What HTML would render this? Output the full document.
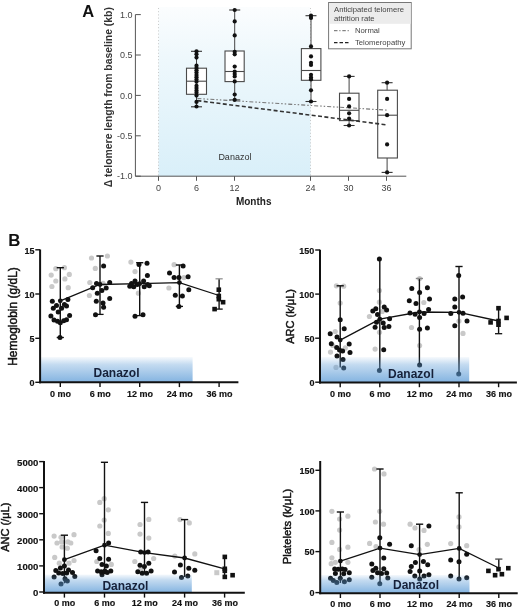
<!DOCTYPE html>
<html><head><meta charset="utf-8"><style>
html,body{margin:0;padding:0;background:#fff;}
svg{display:block;filter:blur(0.3px);font-family:"Liberation Sans",sans-serif;}
</style></head><body>
<svg width="520" height="609" viewBox="0 0 520 609">
<defs>
<linearGradient id="gA" x1="0" y1="0" x2="0" y2="1">
<stop offset="0" stop-color="#fbfdfe"/><stop offset="0.3" stop-color="#eef8fc"/><stop offset="1" stop-color="#d9eff9"/>
</linearGradient>
<linearGradient id="gB" x1="0" y1="0" x2="0" y2="1">
<stop offset="0" stop-color="#5a9ad6" stop-opacity="0.05"/><stop offset="0.3" stop-color="#5a9ad6" stop-opacity="0.36"/><stop offset="1" stop-color="#5a9ad6" stop-opacity="0.75"/>
</linearGradient>
<linearGradient id="gB2" x1="0" y1="0" x2="0" y2="1">
<stop offset="0" stop-color="#5a9ad6" stop-opacity="0.06"/><stop offset="0.3" stop-color="#5a9ad6" stop-opacity="0.36"/><stop offset="1" stop-color="#5a9ad6" stop-opacity="0.75"/>
</linearGradient>
</defs>
<rect width="520" height="609" fill="#fff"/>
<rect x="158.5" y="7" width="152.0" height="169.2" fill="url(#gA)"/>
<line x1="158.5" y1="8" x2="158.5" y2="176.2" stroke="#bdbdbd" stroke-width="0.8" stroke-dasharray="1 2.2"/>
<line x1="310.5" y1="8" x2="310.5" y2="176.2" stroke="#bdbdbd" stroke-width="0.8" stroke-dasharray="1 2.2"/>
<text x="234.9" y="160.3" font-size="9" fill="#333" text-anchor="middle">Danazol</text>
<line x1="196.5" y1="51.3" x2="196.5" y2="106.8" stroke="#444" stroke-width="1"/>
<line x1="191.0" y1="51.3" x2="202.0" y2="51.3" stroke="#333" stroke-width="1.1"/>
<line x1="191.0" y1="106.8" x2="202.0" y2="106.8" stroke="#333" stroke-width="1.1"/>
<rect x="186.5" y="68.2" width="20.0" height="26.1" fill="#fff" stroke="#4a4a4a" stroke-width="1.1"/>
<line x1="186.5" y1="81.2" x2="206.5" y2="81.2" stroke="#4a4a4a" stroke-width="1.1"/>
<line x1="234.7" y1="10.0" x2="234.7" y2="99.9" stroke="#444" stroke-width="1"/>
<line x1="229.2" y1="10.0" x2="240.2" y2="10.0" stroke="#333" stroke-width="1.1"/>
<line x1="229.2" y1="99.9" x2="240.2" y2="99.9" stroke="#333" stroke-width="1.1"/>
<rect x="225.0" y="51.0" width="19.2" height="30.6" fill="#fff" stroke="#4a4a4a" stroke-width="1.1"/>
<line x1="225.0" y1="71.5" x2="244.2" y2="71.5" stroke="#4a4a4a" stroke-width="1.1"/>
<line x1="311.0" y1="15.7" x2="311.0" y2="101.5" stroke="#444" stroke-width="1"/>
<line x1="305.5" y1="15.7" x2="316.5" y2="15.7" stroke="#333" stroke-width="1.1"/>
<line x1="305.5" y1="101.5" x2="316.5" y2="101.5" stroke="#333" stroke-width="1.1"/>
<rect x="301.4" y="48.6" width="19.5" height="31.7" fill="#fff" stroke="#4a4a4a" stroke-width="1.1"/>
<line x1="301.4" y1="70.5" x2="320.9" y2="70.5" stroke="#4a4a4a" stroke-width="1.1"/>
<line x1="349.1" y1="76.4" x2="349.1" y2="125.5" stroke="#444" stroke-width="1"/>
<line x1="343.6" y1="76.4" x2="354.6" y2="76.4" stroke="#333" stroke-width="1.1"/>
<line x1="343.6" y1="125.5" x2="354.6" y2="125.5" stroke="#333" stroke-width="1.1"/>
<rect x="339.5" y="93.2" width="19.5" height="27.4" fill="#fff" stroke="#4a4a4a" stroke-width="1.1"/>
<line x1="339.5" y1="110.3" x2="359.0" y2="110.3" stroke="#4a4a4a" stroke-width="1.1"/>
<line x1="387.1" y1="82.7" x2="387.1" y2="172.4" stroke="#444" stroke-width="1"/>
<line x1="381.6" y1="82.7" x2="392.6" y2="82.7" stroke="#333" stroke-width="1.1"/>
<line x1="381.6" y1="172.4" x2="392.6" y2="172.4" stroke="#333" stroke-width="1.1"/>
<rect x="377.7" y="90.2" width="19.7" height="67.8" fill="#fff" stroke="#4a4a4a" stroke-width="1.1"/>
<line x1="377.7" y1="115.2" x2="397.4" y2="115.2" stroke="#4a4a4a" stroke-width="1.1"/>
<line x1="197.4" y1="98.5" x2="387.7" y2="110.2" stroke="#777" stroke-width="1.1" stroke-dasharray="4 2 1.5 2 1.5 2"/>
<line x1="197.4" y1="100.6" x2="387.7" y2="125" stroke="#333" stroke-width="1.6" stroke-dasharray="4 2.4"/>
<circle cx="196.5" cy="51.3" r="2.1" fill="#111"/>
<circle cx="196.5" cy="54.2" r="2.1" fill="#111"/>
<circle cx="196.5" cy="57.6" r="2.1" fill="#111"/>
<circle cx="196.5" cy="65.7" r="2.1" fill="#111"/>
<circle cx="196.5" cy="68" r="2.1" fill="#111"/>
<circle cx="196.5" cy="70.3" r="2.1" fill="#111"/>
<circle cx="196.5" cy="72.6" r="2.1" fill="#111"/>
<circle cx="196.5" cy="74.9" r="2.1" fill="#111"/>
<circle cx="196.5" cy="77.2" r="2.1" fill="#111"/>
<circle cx="196.5" cy="79.5" r="2.1" fill="#111"/>
<circle cx="196.5" cy="81.8" r="2.1" fill="#111"/>
<circle cx="196.5" cy="85.8" r="2.1" fill="#111"/>
<circle cx="196.5" cy="88.1" r="2.1" fill="#111"/>
<circle cx="196.5" cy="90.4" r="2.1" fill="#111"/>
<circle cx="196.5" cy="92.7" r="2.1" fill="#111"/>
<circle cx="196.5" cy="95.6" r="2.1" fill="#111"/>
<circle cx="196.5" cy="101.9" r="2.1" fill="#111"/>
<circle cx="196.5" cy="106.5" r="2.1" fill="#111"/>
<circle cx="234.7" cy="10.0" r="2.1" fill="#111"/>
<circle cx="234.7" cy="21.4" r="2.1" fill="#111"/>
<circle cx="234.7" cy="35.4" r="2.1" fill="#111"/>
<circle cx="234.7" cy="51.8" r="2.1" fill="#111"/>
<circle cx="234.7" cy="54.3" r="2.1" fill="#111"/>
<circle cx="234.7" cy="66.6" r="2.1" fill="#111"/>
<circle cx="234.7" cy="71.5" r="2.1" fill="#111"/>
<circle cx="234.7" cy="74" r="2.1" fill="#111"/>
<circle cx="234.7" cy="76.4" r="2.1" fill="#111"/>
<circle cx="234.7" cy="81.4" r="2.1" fill="#111"/>
<circle cx="234.7" cy="94.5" r="2.1" fill="#111"/>
<circle cx="234.7" cy="99.9" r="2.1" fill="#111"/>
<circle cx="311.0" cy="15.7" r="2.1" fill="#111"/>
<circle cx="311.0" cy="17.9" r="2.1" fill="#111"/>
<circle cx="311.0" cy="46.4" r="2.1" fill="#111"/>
<circle cx="311.0" cy="56.4" r="2.1" fill="#111"/>
<circle cx="311.0" cy="62.8" r="2.1" fill="#111"/>
<circle cx="311.0" cy="65" r="2.1" fill="#111"/>
<circle cx="311.0" cy="74.8" r="2.1" fill="#111"/>
<circle cx="311.0" cy="77.4" r="2.1" fill="#111"/>
<circle cx="311.0" cy="79.5" r="2.1" fill="#111"/>
<circle cx="311.0" cy="90.3" r="2.1" fill="#111"/>
<circle cx="311.0" cy="101.5" r="2.1" fill="#111"/>
<circle cx="349.1" cy="76.4" r="2.1" fill="#111"/>
<circle cx="349.1" cy="98.9" r="2.1" fill="#111"/>
<circle cx="349.1" cy="106.4" r="2.1" fill="#111"/>
<circle cx="349.1" cy="113.3" r="2.1" fill="#111"/>
<circle cx="349.1" cy="118.6" r="2.1" fill="#111"/>
<circle cx="349.1" cy="125.5" r="2.1" fill="#111"/>
<circle cx="387.1" cy="82.7" r="2.1" fill="#111"/>
<circle cx="387.1" cy="98.9" r="2.1" fill="#111"/>
<circle cx="387.1" cy="115.2" r="2.1" fill="#111"/>
<circle cx="387.1" cy="144.4" r="2.1" fill="#111"/>
<circle cx="387.1" cy="172.4" r="2.1" fill="#111"/>
<line x1="135.4" y1="14.6" x2="135.4" y2="176.2" stroke="#555" stroke-width="1"/>
<line x1="135.4" y1="176.2" x2="406.3" y2="176.2" stroke="#555" stroke-width="1"/>
<line x1="135.4" y1="14.6" x2="140.8" y2="14.6" stroke="#555" stroke-width="1"/>
<text x="132.5" y="17.8" font-size="9" fill="#444" text-anchor="end">1.0</text>
<line x1="135.4" y1="55.0" x2="140.8" y2="55.0" stroke="#555" stroke-width="1"/>
<text x="132.5" y="58.2" font-size="9" fill="#444" text-anchor="end">0.5</text>
<line x1="135.4" y1="95.4" x2="140.8" y2="95.4" stroke="#555" stroke-width="1"/>
<text x="132.5" y="98.6" font-size="9" fill="#444" text-anchor="end">0.0</text>
<line x1="135.4" y1="135.8" x2="140.8" y2="135.8" stroke="#555" stroke-width="1"/>
<text x="132.5" y="139.0" font-size="9" fill="#444" text-anchor="end">-0.5</text>
<line x1="135.4" y1="176.2" x2="140.8" y2="176.2" stroke="#555" stroke-width="1"/>
<text x="132.5" y="179.4" font-size="9" fill="#444" text-anchor="end">-1.0</text>
<line x1="158.5" y1="176.2" x2="158.5" y2="180.8" stroke="#555" stroke-width="1"/>
<text x="158.5" y="190.8" font-size="9" fill="#444" text-anchor="middle">0</text>
<line x1="196.5" y1="176.2" x2="196.5" y2="180.8" stroke="#555" stroke-width="1"/>
<text x="196.5" y="190.8" font-size="9" fill="#444" text-anchor="middle">6</text>
<line x1="234.5" y1="176.2" x2="234.5" y2="180.8" stroke="#555" stroke-width="1"/>
<text x="234.5" y="190.8" font-size="9" fill="#444" text-anchor="middle">12</text>
<line x1="310.5" y1="176.2" x2="310.5" y2="180.8" stroke="#555" stroke-width="1"/>
<text x="310.5" y="190.8" font-size="9" fill="#444" text-anchor="middle">24</text>
<line x1="348.5" y1="176.2" x2="348.5" y2="180.8" stroke="#555" stroke-width="1"/>
<text x="348.5" y="190.8" font-size="9" fill="#444" text-anchor="middle">30</text>
<line x1="386.5" y1="176.2" x2="386.5" y2="180.8" stroke="#555" stroke-width="1"/>
<text x="386.5" y="190.8" font-size="9" fill="#444" text-anchor="middle">36</text>
<text x="253.7" y="205" font-size="10" font-weight="bold" fill="#222" text-anchor="middle">Months</text>
<text transform="translate(112.2,97.2) rotate(-90)" font-size="10.4" font-weight="bold" fill="#333" text-anchor="middle">&#916; telomere length from baseline (kb)</text>
<text x="82.3" y="16.9" font-size="16.5" font-weight="bold" fill="#111">A</text>
<rect x="328.6" y="2.5" width="82.6" height="46.3" fill="#fff" stroke="#777" stroke-width="1"/>
<rect x="329.1" y="3" width="81.6" height="20.8" fill="#ececec"/>
<text x="334" y="12.1" font-size="7.7" fill="#444">Anticipated telomere</text>
<text x="334" y="20.8" font-size="7.7" fill="#444">attrition rate</text>
<line x1="334" y1="30.7" x2="350" y2="30.7" stroke="#666" stroke-width="1" stroke-dasharray="3.5 1.8 1.2 1.8"/>
<text x="355" y="33.4" font-size="7.7" fill="#444">Normal</text>
<line x1="334" y1="42.7" x2="350" y2="42.7" stroke="#222" stroke-width="1.3" stroke-dasharray="3.5 2"/>
<text x="355" y="45.4" font-size="7.7" fill="#444">Telomeropathy</text>
<text x="8.3" y="246.2" font-size="16.8" font-weight="bold" fill="#111">B</text>
<circle cx="55.8" cy="268.7" r="2.6" fill="#c9c9c9"/>
<circle cx="64.4" cy="267.7" r="2.6" fill="#c9c9c9"/>
<circle cx="51.2" cy="275.1" r="2.6" fill="#c9c9c9"/>
<circle cx="69.3" cy="274.4" r="2.6" fill="#c9c9c9"/>
<circle cx="55.8" cy="281" r="2.6" fill="#c9c9c9"/>
<circle cx="64.9" cy="278.9" r="2.6" fill="#c9c9c9"/>
<circle cx="51.9" cy="286.5" r="2.6" fill="#c9c9c9"/>
<circle cx="68.2" cy="287.7" r="2.6" fill="#c9c9c9"/>
<circle cx="91.5" cy="258" r="2.6" fill="#c9c9c9"/>
<circle cx="107.4" cy="256" r="2.6" fill="#c9c9c9"/>
<circle cx="95.3" cy="268.4" r="2.6" fill="#c9c9c9"/>
<circle cx="89.8" cy="282.5" r="2.6" fill="#c9c9c9"/>
<circle cx="89.4" cy="295.5" r="2.6" fill="#c9c9c9"/>
<circle cx="103" cy="283.4" r="2.6" fill="#c9c9c9"/>
<circle cx="130.9" cy="262.1" r="2.6" fill="#c9c9c9"/>
<circle cx="135" cy="271.6" r="2.6" fill="#c9c9c9"/>
<circle cx="138.4" cy="293.2" r="2.6" fill="#c9c9c9"/>
<circle cx="174.1" cy="264.7" r="2.6" fill="#c9c9c9"/>
<circle cx="183.9" cy="277.6" r="2.6" fill="#c9c9c9"/>
<circle cx="168.9" cy="288" r="2.6" fill="#c9c9c9"/>
<line x1="60.3" y1="267.7" x2="60.3" y2="337.5" stroke="#111" stroke-width="1.4"/>
<line x1="56.7" y1="267.7" x2="63.9" y2="267.7" stroke="#111" stroke-width="1.4"/>
<line x1="56.7" y1="337.5" x2="63.9" y2="337.5" stroke="#111" stroke-width="1.3"/>
<line x1="100.0" y1="256" x2="100.0" y2="314.4" stroke="#111" stroke-width="1.4"/>
<line x1="96.4" y1="256" x2="103.6" y2="256" stroke="#111" stroke-width="1.4"/>
<line x1="96.4" y1="314.4" x2="103.6" y2="314.4" stroke="#111" stroke-width="1.3"/>
<line x1="139.7" y1="262.7" x2="139.7" y2="315.6" stroke="#111" stroke-width="1.4"/>
<line x1="136.1" y1="262.7" x2="143.3" y2="262.7" stroke="#111" stroke-width="1.4"/>
<line x1="136.1" y1="315.6" x2="143.3" y2="315.6" stroke="#111" stroke-width="1.3"/>
<line x1="179.4" y1="265" x2="179.4" y2="306.4" stroke="#111" stroke-width="1.4"/>
<line x1="175.8" y1="265" x2="183.0" y2="265" stroke="#111" stroke-width="1.4"/>
<line x1="175.8" y1="306.4" x2="183.0" y2="306.4" stroke="#111" stroke-width="1.3"/>
<line x1="219.1" y1="278.8" x2="219.1" y2="309.1" stroke="#111" stroke-width="1.4"/>
<line x1="215.5" y1="278.8" x2="222.7" y2="278.8" stroke="#9a9a9a" stroke-width="1.4"/>
<line x1="215.5" y1="309.1" x2="222.7" y2="309.1" stroke="#111" stroke-width="1.3"/>
<polyline points="60.3,300.8 100.0,284.5 139.7,283.7 179.4,282.6 219.1,295.5" fill="none" stroke="#111" stroke-width="1.3"/>
<circle cx="52.3" cy="301.2" r="2.5" fill="#111"/>
<circle cx="67.9" cy="299.4" r="2.5" fill="#111"/>
<circle cx="56.5" cy="305.4" r="2.5" fill="#111"/>
<circle cx="64.4" cy="304.4" r="2.5" fill="#111"/>
<circle cx="53.3" cy="308.2" r="2.5" fill="#111"/>
<circle cx="61.6" cy="308.2" r="2.5" fill="#111"/>
<circle cx="66.5" cy="306.1" r="2.5" fill="#111"/>
<circle cx="58.2" cy="312" r="2.5" fill="#111"/>
<circle cx="50.9" cy="316.1" r="2.5" fill="#111"/>
<circle cx="69.6" cy="315.6" r="2.5" fill="#111"/>
<circle cx="54" cy="320" r="2.5" fill="#111"/>
<circle cx="57.5" cy="321.2" r="2.5" fill="#111"/>
<circle cx="60.3" cy="322.8" r="2.5" fill="#111"/>
<circle cx="63.7" cy="320.8" r="2.5" fill="#111"/>
<circle cx="66.5" cy="319.8" r="2.5" fill="#111"/>
<circle cx="60" cy="337.5" r="2.5" fill="#111"/>
<circle cx="103.6" cy="265.9" r="2.5" fill="#111"/>
<circle cx="96.5" cy="283.4" r="2.5" fill="#111"/>
<circle cx="109.7" cy="282.6" r="2.5" fill="#111"/>
<circle cx="92.7" cy="287.7" r="2.5" fill="#111"/>
<circle cx="101.9" cy="290.5" r="2.5" fill="#111"/>
<circle cx="106.2" cy="288" r="2.5" fill="#111"/>
<circle cx="97.3" cy="293.2" r="2.5" fill="#111"/>
<circle cx="109.7" cy="298.6" r="2.5" fill="#111"/>
<circle cx="96.3" cy="301.2" r="2.5" fill="#111"/>
<circle cx="103" cy="302.9" r="2.5" fill="#111"/>
<circle cx="103.6" cy="307.3" r="2.5" fill="#111"/>
<circle cx="95.5" cy="314.7" r="2.5" fill="#111"/>
<circle cx="147" cy="263.2" r="2.5" fill="#111"/>
<circle cx="139" cy="264.4" r="2.5" fill="#111"/>
<circle cx="147.4" cy="275.5" r="2.5" fill="#111"/>
<circle cx="135" cy="281" r="2.5" fill="#111"/>
<circle cx="131.5" cy="283.4" r="2.5" fill="#111"/>
<circle cx="129.8" cy="286.2" r="2.5" fill="#111"/>
<circle cx="133.8" cy="286.8" r="2.5" fill="#111"/>
<circle cx="137.3" cy="284.5" r="2.5" fill="#111"/>
<circle cx="143.6" cy="281" r="2.5" fill="#111"/>
<circle cx="144.2" cy="286.8" r="2.5" fill="#111"/>
<circle cx="147.6" cy="284.5" r="2.5" fill="#111"/>
<circle cx="149.3" cy="285.7" r="2.5" fill="#111"/>
<circle cx="135" cy="316.2" r="2.5" fill="#111"/>
<circle cx="143" cy="314.7" r="2.5" fill="#111"/>
<circle cx="183.1" cy="265.9" r="2.5" fill="#111"/>
<circle cx="169.5" cy="273" r="2.5" fill="#111"/>
<circle cx="174.1" cy="277.4" r="2.5" fill="#111"/>
<circle cx="178.9" cy="277.6" r="2.5" fill="#111"/>
<circle cx="188.1" cy="276.7" r="2.5" fill="#111"/>
<circle cx="188.8" cy="289.7" r="2.5" fill="#111"/>
<circle cx="175.3" cy="295.2" r="2.5" fill="#111"/>
<circle cx="182.4" cy="296" r="2.5" fill="#111"/>
<circle cx="178.9" cy="306.4" r="2.5" fill="#111"/>
<rect x="216.5" y="287.4" width="4.6" height="4.6" fill="#111"/>
<rect x="216.5" y="293.7" width="4.6" height="4.6" fill="#111"/>
<rect x="216.5" y="296.9" width="4.6" height="4.6" fill="#111"/>
<rect x="220.8" y="299.9" width="4.6" height="4.6" fill="#111"/>
<rect x="212.3" y="306.8" width="4.6" height="4.6" fill="#111"/>
<circle cx="60.3" cy="300.8" r="2.4" fill="#111"/>
<circle cx="100.0" cy="284.5" r="2.4" fill="#111"/>
<circle cx="139.7" cy="283.7" r="2.4" fill="#111"/>
<circle cx="179.4" cy="282.6" r="2.4" fill="#111"/>
<rect x="40.7" y="357" width="151.9" height="25.3" fill="url(#gB)"/>
<text x="93.5" y="376.6" font-size="12" font-weight="bold" fill="#16213a">Danazol</text>
<line x1="40.1" y1="249.5" x2="40.1" y2="383.3" stroke="#111" stroke-width="2"/>
<line x1="39.1" y1="382.3" x2="238.4" y2="382.3" stroke="#111" stroke-width="2"/>
<line x1="35.3" y1="249.8" x2="40.1" y2="249.8" stroke="#111" stroke-width="1.4"/>
<text x="34.5" y="253.5" font-size="9" font-weight="bold" fill="#111" stroke="#111" stroke-width="0.15" text-anchor="end">15</text>
<line x1="35.3" y1="294.0" x2="40.1" y2="294.0" stroke="#111" stroke-width="1.4"/>
<text x="34.5" y="297.6" font-size="9" font-weight="bold" fill="#111" stroke="#111" stroke-width="0.15" text-anchor="end">10</text>
<line x1="35.3" y1="338.3" x2="40.1" y2="338.3" stroke="#111" stroke-width="1.4"/>
<text x="34.5" y="341.9" font-size="9" font-weight="bold" fill="#111" stroke="#111" stroke-width="0.15" text-anchor="end">5</text>
<line x1="35.3" y1="382.3" x2="40.1" y2="382.3" stroke="#111" stroke-width="1.4"/>
<text x="34.5" y="385.9" font-size="9" font-weight="bold" fill="#111" stroke="#111" stroke-width="0.15" text-anchor="end">0</text>
<line x1="60.3" y1="382.3" x2="60.3" y2="387.1" stroke="#111" stroke-width="1.4"/>
<text x="60.6" y="396.6" font-size="9" font-weight="bold" fill="#111" stroke="#111" stroke-width="0.15" text-anchor="middle">0 mo</text>
<line x1="100.0" y1="382.3" x2="100.0" y2="387.1" stroke="#111" stroke-width="1.4"/>
<text x="100.3" y="396.6" font-size="9" font-weight="bold" fill="#111" stroke="#111" stroke-width="0.15" text-anchor="middle">6 mo</text>
<line x1="139.7" y1="382.3" x2="139.7" y2="387.1" stroke="#111" stroke-width="1.4"/>
<text x="140.0" y="396.6" font-size="9" font-weight="bold" fill="#111" stroke="#111" stroke-width="0.15" text-anchor="middle">12 mo</text>
<line x1="179.4" y1="382.3" x2="179.4" y2="387.1" stroke="#111" stroke-width="1.4"/>
<text x="179.7" y="396.6" font-size="9" font-weight="bold" fill="#111" stroke="#111" stroke-width="0.15" text-anchor="middle">24 mo</text>
<line x1="219.1" y1="382.3" x2="219.1" y2="387.1" stroke="#111" stroke-width="1.4"/>
<text x="219.4" y="396.6" font-size="9" font-weight="bold" fill="#111" stroke="#111" stroke-width="0.15" text-anchor="middle">36 mo</text>
<text transform="translate(17.4,316.5) rotate(-90)" font-size="12" fill="#111" stroke="#111" stroke-width="0.45" text-anchor="middle">Hemoglobin (g/dL)</text>
<circle cx="336.4" cy="285.8" r="2.6" fill="#c9c9c9"/>
<circle cx="343.7" cy="286.2" r="2.6" fill="#c9c9c9"/>
<circle cx="340.2" cy="303.1" r="2.6" fill="#c9c9c9"/>
<circle cx="335.2" cy="331.5" r="2.6" fill="#c9c9c9"/>
<circle cx="332.8" cy="345.5" r="2.6" fill="#c9c9c9"/>
<circle cx="345.3" cy="347.9" r="2.6" fill="#c9c9c9"/>
<circle cx="330.5" cy="352.1" r="2.6" fill="#c9c9c9"/>
<circle cx="336" cy="367.4" r="2.6" fill="#c9c9c9"/>
<circle cx="369.4" cy="316.5" r="2.6" fill="#c9c9c9"/>
<circle cx="382.2" cy="311.4" r="2.6" fill="#c9c9c9"/>
<circle cx="379.5" cy="332.3" r="2.6" fill="#c9c9c9"/>
<circle cx="379.4" cy="290.5" r="2.6" fill="#c9c9c9"/>
<circle cx="379.4" cy="302.2" r="2.6" fill="#c9c9c9"/>
<circle cx="375.1" cy="349.1" r="2.6" fill="#c9c9c9"/>
<circle cx="423.8" cy="302.5" r="2.6" fill="#c9c9c9"/>
<circle cx="411.5" cy="327.5" r="2.6" fill="#c9c9c9"/>
<circle cx="419.6" cy="345.6" r="2.6" fill="#c9c9c9"/>
<circle cx="419.6" cy="278.5" r="2.6" fill="#c9c9c9"/>
<circle cx="463" cy="333.4" r="2.6" fill="#c9c9c9"/>
<circle cx="459" cy="321" r="2.6" fill="#c9c9c9"/>
<line x1="340.2" y1="285.8" x2="340.2" y2="367.4" stroke="#111" stroke-width="1.4"/>
<line x1="336.6" y1="285.8" x2="343.8" y2="285.8" stroke="#111" stroke-width="1.4"/>
<line x1="379.8" y1="259" x2="379.8" y2="370.5" stroke="#111" stroke-width="1.4"/>
<line x1="419.4" y1="278.5" x2="419.4" y2="365" stroke="#111" stroke-width="1.4"/>
<line x1="415.8" y1="278.5" x2="423.0" y2="278.5" stroke="#8a8a8a" stroke-width="1.4"/>
<line x1="459.0" y1="266.5" x2="459.0" y2="374" stroke="#111" stroke-width="1.4"/>
<line x1="455.4" y1="266.5" x2="462.6" y2="266.5" stroke="#111" stroke-width="1.4"/>
<line x1="498.6" y1="308.2" x2="498.6" y2="333.7" stroke="#111" stroke-width="1.4"/>
<line x1="495.0" y1="333.7" x2="502.2" y2="333.7" stroke="#111" stroke-width="1.3"/>
<polyline points="340.2,340.1 379.8,319.2 419.4,312.0 459.0,312.3 498.6,321.0" fill="none" stroke="#111" stroke-width="1.3"/>
<circle cx="340.2" cy="319.8" r="2.5" fill="#111"/>
<circle cx="344.2" cy="328.8" r="2.5" fill="#111"/>
<circle cx="330.2" cy="333.8" r="2.5" fill="#111"/>
<circle cx="337" cy="336.9" r="2.5" fill="#111"/>
<circle cx="331.3" cy="343.7" r="2.5" fill="#111"/>
<circle cx="349.2" cy="344" r="2.5" fill="#111"/>
<circle cx="336.7" cy="347.4" r="2.5" fill="#111"/>
<circle cx="339.5" cy="349.9" r="2.5" fill="#111"/>
<circle cx="342.6" cy="351" r="2.5" fill="#111"/>
<circle cx="350" cy="352.5" r="2.5" fill="#111"/>
<circle cx="337" cy="356.1" r="2.5" fill="#111"/>
<circle cx="343" cy="359.6" r="2.5" fill="#111"/>
<circle cx="343.7" cy="368.1" r="2.5" fill="#111"/>
<circle cx="372.8" cy="311.1" r="2.5" fill="#111"/>
<circle cx="375.8" cy="308.7" r="2.5" fill="#111"/>
<circle cx="384.2" cy="307.1" r="2.5" fill="#111"/>
<circle cx="386.6" cy="310.1" r="2.5" fill="#111"/>
<circle cx="377.5" cy="314.5" r="2.5" fill="#111"/>
<circle cx="389.6" cy="318.8" r="2.5" fill="#111"/>
<circle cx="376.5" cy="322.2" r="2.5" fill="#111"/>
<circle cx="383.2" cy="322.9" r="2.5" fill="#111"/>
<circle cx="375.1" cy="327.3" r="2.5" fill="#111"/>
<circle cx="384.2" cy="327.6" r="2.5" fill="#111"/>
<circle cx="388.9" cy="326.6" r="2.5" fill="#111"/>
<circle cx="383.7" cy="349.8" r="2.5" fill="#111"/>
<circle cx="379.4" cy="259" r="2.5" fill="#111"/>
<circle cx="379.4" cy="370.5" r="2.5" fill="#111"/>
<circle cx="411.8" cy="288.6" r="2.5" fill="#111"/>
<circle cx="427.4" cy="287.7" r="2.5" fill="#111"/>
<circle cx="419.6" cy="292.6" r="2.5" fill="#111"/>
<circle cx="409.3" cy="300.7" r="2.5" fill="#111"/>
<circle cx="429.5" cy="298.9" r="2.5" fill="#111"/>
<circle cx="416" cy="303.5" r="2.5" fill="#111"/>
<circle cx="428.6" cy="309.4" r="2.5" fill="#111"/>
<circle cx="410" cy="313" r="2.5" fill="#111"/>
<circle cx="415.1" cy="314.3" r="2.5" fill="#111"/>
<circle cx="424.1" cy="313.4" r="2.5" fill="#111"/>
<circle cx="419.6" cy="317.4" r="2.5" fill="#111"/>
<circle cx="419.6" cy="329.3" r="2.5" fill="#111"/>
<circle cx="427.4" cy="327.9" r="2.5" fill="#111"/>
<circle cx="419.6" cy="365" r="2.5" fill="#111"/>
<circle cx="458.7" cy="275.4" r="2.5" fill="#111"/>
<circle cx="454.8" cy="299" r="2.5" fill="#111"/>
<circle cx="462.6" cy="297.1" r="2.5" fill="#111"/>
<circle cx="454.8" cy="306.9" r="2.5" fill="#111"/>
<circle cx="450.8" cy="313.6" r="2.5" fill="#111"/>
<circle cx="463" cy="313.3" r="2.5" fill="#111"/>
<circle cx="467" cy="321.1" r="2.5" fill="#111"/>
<circle cx="454.8" cy="325.7" r="2.5" fill="#111"/>
<circle cx="458.7" cy="374" r="2.5" fill="#111"/>
<rect x="496.2" y="305.9" width="4.6" height="4.6" fill="#111"/>
<rect x="504.3" y="315.6" width="4.6" height="4.6" fill="#111"/>
<rect x="488.3" y="320.1" width="4.6" height="4.6" fill="#111"/>
<rect x="496.2" y="318.7" width="4.6" height="4.6" fill="#111"/>
<rect x="496.2" y="322.4" width="4.6" height="4.6" fill="#111"/>
<circle cx="340.2" cy="340.1" r="2.4" fill="#111"/>
<circle cx="379.8" cy="319.2" r="2.4" fill="#111"/>
<circle cx="419.4" cy="312.0" r="2.4" fill="#111"/>
<circle cx="459.0" cy="312.3" r="2.4" fill="#111"/>
<rect x="320.6" y="357" width="148.6" height="25.4" fill="url(#gB)"/>
<text x="388" y="378.2" font-size="12" font-weight="bold" fill="#16213a">Danazol</text>
<line x1="320.0" y1="249.7" x2="320.0" y2="383.4" stroke="#111" stroke-width="2"/>
<line x1="319.0" y1="382.4" x2="516.9" y2="382.4" stroke="#111" stroke-width="2"/>
<line x1="315.2" y1="250.0" x2="320.0" y2="250.0" stroke="#111" stroke-width="1.4"/>
<text x="314.4" y="253.7" font-size="9" font-weight="bold" fill="#111" stroke="#111" stroke-width="0.15" text-anchor="end">150</text>
<line x1="315.2" y1="294.1" x2="320.0" y2="294.1" stroke="#111" stroke-width="1.4"/>
<text x="314.4" y="297.8" font-size="9" font-weight="bold" fill="#111" stroke="#111" stroke-width="0.15" text-anchor="end">100</text>
<line x1="315.2" y1="338.2" x2="320.0" y2="338.2" stroke="#111" stroke-width="1.4"/>
<text x="314.4" y="341.8" font-size="9" font-weight="bold" fill="#111" stroke="#111" stroke-width="0.15" text-anchor="end">50</text>
<line x1="315.2" y1="382.2" x2="320.0" y2="382.2" stroke="#111" stroke-width="1.4"/>
<text x="314.4" y="385.8" font-size="9" font-weight="bold" fill="#111" stroke="#111" stroke-width="0.15" text-anchor="end">0</text>
<line x1="340.2" y1="382.4" x2="340.2" y2="387.2" stroke="#111" stroke-width="1.4"/>
<text x="340.5" y="396.6" font-size="9" font-weight="bold" fill="#111" stroke="#111" stroke-width="0.15" text-anchor="middle">0 mo</text>
<line x1="379.8" y1="382.4" x2="379.8" y2="387.2" stroke="#111" stroke-width="1.4"/>
<text x="380.1" y="396.6" font-size="9" font-weight="bold" fill="#111" stroke="#111" stroke-width="0.15" text-anchor="middle">6 mo</text>
<line x1="419.4" y1="382.4" x2="419.4" y2="387.2" stroke="#111" stroke-width="1.4"/>
<text x="419.7" y="396.6" font-size="9" font-weight="bold" fill="#111" stroke="#111" stroke-width="0.15" text-anchor="middle">12 mo</text>
<line x1="459.0" y1="382.4" x2="459.0" y2="387.2" stroke="#111" stroke-width="1.4"/>
<text x="459.3" y="396.6" font-size="9" font-weight="bold" fill="#111" stroke="#111" stroke-width="0.15" text-anchor="middle">24 mo</text>
<line x1="498.6" y1="382.4" x2="498.6" y2="387.2" stroke="#111" stroke-width="1.4"/>
<text x="498.9" y="396.6" font-size="9" font-weight="bold" fill="#111" stroke="#111" stroke-width="0.15" text-anchor="middle">36 mo</text>
<text transform="translate(293.5,316.4) rotate(-90)" font-size="11" fill="#111" stroke="#111" stroke-width="0.45" text-anchor="middle">ARC (k/&#956;L)</text>
<circle cx="54.1" cy="536.1" r="2.6" fill="#c9c9c9"/>
<circle cx="61" cy="537.3" r="2.6" fill="#c9c9c9"/>
<circle cx="74" cy="534.7" r="2.6" fill="#c9c9c9"/>
<circle cx="57" cy="543" r="2.6" fill="#c9c9c9"/>
<circle cx="61.6" cy="541.9" r="2.6" fill="#c9c9c9"/>
<circle cx="67.9" cy="541.9" r="2.6" fill="#c9c9c9"/>
<circle cx="70.8" cy="543" r="2.6" fill="#c9c9c9"/>
<circle cx="62.1" cy="547" r="2.6" fill="#c9c9c9"/>
<circle cx="67.3" cy="548.2" r="2.6" fill="#c9c9c9"/>
<circle cx="54.7" cy="557.4" r="2.6" fill="#c9c9c9"/>
<circle cx="74" cy="560.5" r="2.6" fill="#c9c9c9"/>
<circle cx="59.3" cy="563.2" r="2.6" fill="#c9c9c9"/>
<circle cx="69" cy="563.2" r="2.6" fill="#c9c9c9"/>
<circle cx="104.2" cy="498.7" r="2.6" fill="#c9c9c9"/>
<circle cx="99.8" cy="502.4" r="2.6" fill="#c9c9c9"/>
<circle cx="108.3" cy="509.8" r="2.6" fill="#c9c9c9"/>
<circle cx="104.2" cy="520.1" r="2.6" fill="#c9c9c9"/>
<circle cx="99.8" cy="526" r="2.6" fill="#c9c9c9"/>
<circle cx="108.3" cy="533.4" r="2.6" fill="#c9c9c9"/>
<circle cx="96.8" cy="561.5" r="2.6" fill="#c9c9c9"/>
<circle cx="111.3" cy="564.4" r="2.6" fill="#c9c9c9"/>
<circle cx="148.8" cy="519.4" r="2.6" fill="#c9c9c9"/>
<circle cx="140" cy="524.5" r="2.6" fill="#c9c9c9"/>
<circle cx="140" cy="534.1" r="2.6" fill="#c9c9c9"/>
<circle cx="148.8" cy="538.1" r="2.6" fill="#c9c9c9"/>
<circle cx="134.8" cy="561.5" r="2.6" fill="#c9c9c9"/>
<circle cx="153.7" cy="558.5" r="2.6" fill="#c9c9c9"/>
<circle cx="140.7" cy="569.6" r="2.6" fill="#c9c9c9"/>
<circle cx="180" cy="519.6" r="2.6" fill="#c9c9c9"/>
<circle cx="189.3" cy="522.9" r="2.6" fill="#c9c9c9"/>
<circle cx="194.8" cy="553.9" r="2.6" fill="#c9c9c9"/>
<circle cx="174.8" cy="556.1" r="2.6" fill="#c9c9c9"/>
<rect x="214.3" y="570.2" width="5" height="5" fill="#c9c9c9"/>
<line x1="64.4" y1="535.2" x2="64.4" y2="583.3" stroke="#111" stroke-width="1.4"/>
<line x1="60.8" y1="535.2" x2="68.0" y2="535.2" stroke="#111" stroke-width="1.4"/>
<line x1="104.5" y1="462.3" x2="104.5" y2="574" stroke="#111" stroke-width="1.4"/>
<line x1="100.9" y1="462.3" x2="108.0" y2="462.3" stroke="#111" stroke-width="1.4"/>
<line x1="144.5" y1="502.4" x2="144.5" y2="573" stroke="#111" stroke-width="1.4"/>
<line x1="140.9" y1="502.4" x2="148.1" y2="502.4" stroke="#111" stroke-width="1.4"/>
<line x1="184.6" y1="519.6" x2="184.6" y2="577" stroke="#111" stroke-width="1.4"/>
<line x1="181.0" y1="519.6" x2="188.2" y2="519.6" stroke="#111" stroke-width="1.4"/>
<line x1="224.6" y1="556.9" x2="224.6" y2="576.9" stroke="#111" stroke-width="1.4"/>
<polyline points="64.4,559.7 104.5,545.2 144.5,552.6 184.6,558.0 224.6,568.8" fill="none" stroke="#111" stroke-width="1.3"/>
<circle cx="64.4" cy="566" r="2.5" fill="#111"/>
<circle cx="60.4" cy="568.1" r="2.5" fill="#111"/>
<circle cx="55.8" cy="570.6" r="2.5" fill="#111"/>
<circle cx="68.5" cy="570.1" r="2.5" fill="#111"/>
<circle cx="58.7" cy="572.9" r="2.5" fill="#111"/>
<circle cx="62.7" cy="573.5" r="2.5" fill="#111"/>
<circle cx="66.7" cy="572.9" r="2.5" fill="#111"/>
<circle cx="72.5" cy="572.4" r="2.5" fill="#111"/>
<circle cx="54.1" cy="577" r="2.5" fill="#111"/>
<circle cx="74.8" cy="576.4" r="2.5" fill="#111"/>
<circle cx="67.3" cy="581" r="2.5" fill="#111"/>
<circle cx="61" cy="583.9" r="2.5" fill="#111"/>
<circle cx="65" cy="578.7" r="2.5" fill="#111"/>
<circle cx="108.6" cy="543" r="2.5" fill="#111"/>
<circle cx="96.1" cy="550.8" r="2.5" fill="#111"/>
<circle cx="99.8" cy="558.5" r="2.5" fill="#111"/>
<circle cx="108.6" cy="559.3" r="2.5" fill="#111"/>
<circle cx="102" cy="564.4" r="2.5" fill="#111"/>
<circle cx="106.4" cy="565.9" r="2.5" fill="#111"/>
<circle cx="97.6" cy="571.1" r="2.5" fill="#111"/>
<circle cx="101.2" cy="571.8" r="2.5" fill="#111"/>
<circle cx="104.9" cy="571.1" r="2.5" fill="#111"/>
<circle cx="110.8" cy="571.1" r="2.5" fill="#111"/>
<circle cx="102" cy="574.8" r="2.5" fill="#111"/>
<circle cx="107.2" cy="572.5" r="2.5" fill="#111"/>
<circle cx="140.7" cy="551.9" r="2.5" fill="#111"/>
<circle cx="148.1" cy="551.9" r="2.5" fill="#111"/>
<circle cx="140" cy="565.2" r="2.5" fill="#111"/>
<circle cx="148.8" cy="563.2" r="2.5" fill="#111"/>
<circle cx="144.4" cy="566.6" r="2.5" fill="#111"/>
<circle cx="137.8" cy="571.8" r="2.5" fill="#111"/>
<circle cx="142.2" cy="573.3" r="2.5" fill="#111"/>
<circle cx="146.6" cy="573.3" r="2.5" fill="#111"/>
<circle cx="151.1" cy="571.1" r="2.5" fill="#111"/>
<circle cx="180.4" cy="565" r="2.5" fill="#111"/>
<circle cx="188.8" cy="568.2" r="2.5" fill="#111"/>
<circle cx="194.8" cy="570.2" r="2.5" fill="#111"/>
<circle cx="174.5" cy="571.9" r="2.5" fill="#111"/>
<circle cx="181.5" cy="577.5" r="2.5" fill="#111"/>
<circle cx="187.8" cy="576.1" r="2.5" fill="#111"/>
<rect x="222.5" y="554.6" width="4.6" height="4.6" fill="#111"/>
<rect x="222.5" y="566.5" width="4.6" height="4.6" fill="#111"/>
<rect x="222.5" y="568.5" width="4.6" height="4.6" fill="#111"/>
<rect x="222.5" y="574.6" width="4.6" height="4.6" fill="#111"/>
<rect x="230.3" y="572.9" width="4.6" height="4.6" fill="#111"/>
<circle cx="64.4" cy="559.7" r="2.4" fill="#111"/>
<circle cx="104.5" cy="545.2" r="2.4" fill="#111"/>
<circle cx="144.5" cy="552.6" r="2.4" fill="#111"/>
<circle cx="184.6" cy="558.0" r="2.4" fill="#111"/>
<rect x="44.6" y="574.5" width="147.2" height="18.3" fill="url(#gB2)"/>
<text x="102.4" y="589.5" font-size="12" font-weight="bold" fill="#16213a">Danazol</text>
<line x1="44.0" y1="461.1" x2="44.0" y2="593.8" stroke="#111" stroke-width="2"/>
<line x1="43.0" y1="592.8" x2="244.8" y2="592.8" stroke="#111" stroke-width="2"/>
<line x1="39.2" y1="461.6" x2="44.0" y2="461.6" stroke="#111" stroke-width="1.4"/>
<text x="38.4" y="465.5" font-size="9.6" font-weight="bold" fill="#111" stroke="#111" stroke-width="0.15" text-anchor="end">5000</text>
<line x1="39.2" y1="487.6" x2="44.0" y2="487.6" stroke="#111" stroke-width="1.4"/>
<text x="38.4" y="491.5" font-size="9.6" font-weight="bold" fill="#111" stroke="#111" stroke-width="0.15" text-anchor="end">4000</text>
<line x1="39.2" y1="513.7" x2="44.0" y2="513.7" stroke="#111" stroke-width="1.4"/>
<text x="38.4" y="517.6" font-size="9.6" font-weight="bold" fill="#111" stroke="#111" stroke-width="0.15" text-anchor="end">3000</text>
<line x1="39.2" y1="539.8" x2="44.0" y2="539.8" stroke="#111" stroke-width="1.4"/>
<text x="38.4" y="543.7" font-size="9.6" font-weight="bold" fill="#111" stroke="#111" stroke-width="0.15" text-anchor="end">2000</text>
<line x1="39.2" y1="565.9" x2="44.0" y2="565.9" stroke="#111" stroke-width="1.4"/>
<text x="38.4" y="569.8" font-size="9.6" font-weight="bold" fill="#111" stroke="#111" stroke-width="0.15" text-anchor="end">1000</text>
<line x1="39.2" y1="592.0" x2="44.0" y2="592.0" stroke="#111" stroke-width="1.4"/>
<text x="38.4" y="595.9" font-size="9.6" font-weight="bold" fill="#111" stroke="#111" stroke-width="0.15" text-anchor="end">0</text>
<line x1="64.4" y1="592.8" x2="64.4" y2="597.6" stroke="#111" stroke-width="1.4"/>
<text x="64.7" y="606.3" font-size="9" font-weight="bold" fill="#111" stroke="#111" stroke-width="0.15" text-anchor="middle">0 mo</text>
<line x1="104.5" y1="592.8" x2="104.5" y2="597.6" stroke="#111" stroke-width="1.4"/>
<text x="104.8" y="606.3" font-size="9" font-weight="bold" fill="#111" stroke="#111" stroke-width="0.15" text-anchor="middle">6 mo</text>
<line x1="144.5" y1="592.8" x2="144.5" y2="597.6" stroke="#111" stroke-width="1.4"/>
<text x="144.8" y="606.3" font-size="9" font-weight="bold" fill="#111" stroke="#111" stroke-width="0.15" text-anchor="middle">12 mo</text>
<line x1="184.6" y1="592.8" x2="184.6" y2="597.6" stroke="#111" stroke-width="1.4"/>
<text x="184.9" y="606.3" font-size="9" font-weight="bold" fill="#111" stroke="#111" stroke-width="0.15" text-anchor="middle">24 mo</text>
<line x1="224.6" y1="592.8" x2="224.6" y2="597.6" stroke="#111" stroke-width="1.4"/>
<text x="224.9" y="606.3" font-size="9" font-weight="bold" fill="#111" stroke="#111" stroke-width="0.15" text-anchor="middle">36 mo</text>
<text transform="translate(9.4,527.2) rotate(-90)" font-size="11" fill="#111" stroke="#111" stroke-width="0.45" text-anchor="middle">ANC (/&#956;L)</text>
<circle cx="331.9" cy="511.3" r="2.6" fill="#c9c9c9"/>
<circle cx="347.9" cy="516.2" r="2.6" fill="#c9c9c9"/>
<circle cx="339.6" cy="519" r="2.6" fill="#c9c9c9"/>
<circle cx="339.6" cy="530.1" r="2.6" fill="#c9c9c9"/>
<circle cx="331.9" cy="542.4" r="2.6" fill="#c9c9c9"/>
<circle cx="347.9" cy="547.2" r="2.6" fill="#c9c9c9"/>
<circle cx="339.6" cy="549.4" r="2.6" fill="#c9c9c9"/>
<circle cx="331.9" cy="557.8" r="2.6" fill="#c9c9c9"/>
<circle cx="331.2" cy="563.7" r="2.6" fill="#c9c9c9"/>
<circle cx="335.4" cy="562.3" r="2.6" fill="#c9c9c9"/>
<circle cx="347.9" cy="562.3" r="2.6" fill="#c9c9c9"/>
<circle cx="374.5" cy="469" r="2.6" fill="#c9c9c9"/>
<circle cx="384" cy="473.9" r="2.6" fill="#c9c9c9"/>
<circle cx="379.7" cy="511.3" r="2.6" fill="#c9c9c9"/>
<circle cx="375.4" cy="522" r="2.6" fill="#c9c9c9"/>
<circle cx="383.5" cy="524.2" r="2.6" fill="#c9c9c9"/>
<circle cx="369.6" cy="543.4" r="2.6" fill="#c9c9c9"/>
<circle cx="376" cy="546.6" r="2.6" fill="#c9c9c9"/>
<circle cx="410.1" cy="524.2" r="2.6" fill="#c9c9c9"/>
<circle cx="415" cy="527.9" r="2.6" fill="#c9c9c9"/>
<circle cx="424" cy="530.4" r="2.6" fill="#c9c9c9"/>
<circle cx="427.3" cy="544.3" r="2.6" fill="#c9c9c9"/>
<circle cx="419.1" cy="549.5" r="2.6" fill="#c9c9c9"/>
<circle cx="459" cy="516.9" r="2.6" fill="#c9c9c9"/>
<circle cx="459" cy="526.9" r="2.6" fill="#c9c9c9"/>
<circle cx="450.7" cy="543.6" r="2.6" fill="#c9c9c9"/>
<circle cx="466.7" cy="545.7" r="2.6" fill="#c9c9c9"/>
<line x1="340.4" y1="512" x2="340.4" y2="583" stroke="#111" stroke-width="1.4"/>
<line x1="336.8" y1="512" x2="344.0" y2="512" stroke="#111" stroke-width="1.4"/>
<line x1="380.0" y1="469" x2="380.0" y2="584" stroke="#111" stroke-width="1.4"/>
<line x1="376.4" y1="469" x2="383.6" y2="469" stroke="#111" stroke-width="1.4"/>
<line x1="419.6" y1="524.2" x2="419.6" y2="580" stroke="#111" stroke-width="1.4"/>
<line x1="416.0" y1="524.2" x2="423.2" y2="524.2" stroke="#111" stroke-width="1.4"/>
<line x1="459.2" y1="492.8" x2="459.2" y2="580" stroke="#111" stroke-width="1.4"/>
<line x1="455.6" y1="492.8" x2="462.8" y2="492.8" stroke="#111" stroke-width="1.4"/>
<line x1="498.8" y1="559.1" x2="498.8" y2="568" stroke="#111" stroke-width="1.4"/>
<line x1="495.2" y1="559.1" x2="502.4" y2="559.1" stroke="#555" stroke-width="1.4"/>
<polyline points="340.4,561.1 380.0,548.1 419.6,554.6 459.2,548.4 498.8,568.0" fill="none" stroke="#111" stroke-width="1.3"/>
<circle cx="334.7" cy="569" r="2.5" fill="#111"/>
<circle cx="338.2" cy="569.2" r="2.5" fill="#111"/>
<circle cx="342.3" cy="569" r="2.5" fill="#111"/>
<circle cx="345.1" cy="569.5" r="2.5" fill="#111"/>
<circle cx="335.4" cy="573.4" r="2.5" fill="#111"/>
<circle cx="343.7" cy="573.7" r="2.5" fill="#111"/>
<circle cx="349.3" cy="572.7" r="2.5" fill="#111"/>
<circle cx="330.5" cy="578.3" r="2.5" fill="#111"/>
<circle cx="333.3" cy="580.4" r="2.5" fill="#111"/>
<circle cx="340.3" cy="578.3" r="2.5" fill="#111"/>
<circle cx="344.4" cy="581.8" r="2.5" fill="#111"/>
<circle cx="349.3" cy="579.7" r="2.5" fill="#111"/>
<circle cx="336.8" cy="582.5" r="2.5" fill="#111"/>
<circle cx="379.8" cy="537.8" r="2.5" fill="#111"/>
<circle cx="389.6" cy="544.3" r="2.5" fill="#111"/>
<circle cx="383.8" cy="558.1" r="2.5" fill="#111"/>
<circle cx="371.8" cy="564" r="2.5" fill="#111"/>
<circle cx="375.8" cy="568.2" r="2.5" fill="#111"/>
<circle cx="372.9" cy="570.5" r="2.5" fill="#111"/>
<circle cx="383.8" cy="568.8" r="2.5" fill="#111"/>
<circle cx="377.5" cy="572.8" r="2.5" fill="#111"/>
<circle cx="381.5" cy="573.4" r="2.5" fill="#111"/>
<circle cx="386.7" cy="573" r="2.5" fill="#111"/>
<circle cx="371.8" cy="577.2" r="2.5" fill="#111"/>
<circle cx="387.8" cy="578" r="2.5" fill="#111"/>
<circle cx="379.8" cy="583.7" r="2.5" fill="#111"/>
<circle cx="428.9" cy="526.1" r="2.5" fill="#111"/>
<circle cx="411.3" cy="545.8" r="2.5" fill="#111"/>
<circle cx="415.4" cy="562.4" r="2.5" fill="#111"/>
<circle cx="423.4" cy="561.5" r="2.5" fill="#111"/>
<circle cx="411.3" cy="566.4" r="2.5" fill="#111"/>
<circle cx="427.7" cy="564.8" r="2.5" fill="#111"/>
<circle cx="410.1" cy="571.6" r="2.5" fill="#111"/>
<circle cx="419.7" cy="571" r="2.5" fill="#111"/>
<circle cx="414.8" cy="575.9" r="2.5" fill="#111"/>
<circle cx="424" cy="575.9" r="2.5" fill="#111"/>
<circle cx="428.9" cy="574.7" r="2.5" fill="#111"/>
<circle cx="419.7" cy="579" r="2.5" fill="#111"/>
<circle cx="466.7" cy="554.3" r="2.5" fill="#111"/>
<circle cx="450.7" cy="560" r="2.5" fill="#111"/>
<circle cx="459" cy="561.7" r="2.5" fill="#111"/>
<circle cx="450.7" cy="576" r="2.5" fill="#111"/>
<circle cx="459" cy="579" r="2.5" fill="#111"/>
<circle cx="466.7" cy="577.8" r="2.5" fill="#111"/>
<rect x="486.1" y="568.6" width="4.6" height="4.6" fill="#111"/>
<rect x="496.2" y="566.9" width="4.6" height="4.6" fill="#111"/>
<rect x="492.8" y="572.9" width="4.6" height="4.6" fill="#111"/>
<rect x="499.6" y="571.9" width="4.6" height="4.6" fill="#111"/>
<rect x="506.0" y="565.9" width="4.6" height="4.6" fill="#111"/>
<circle cx="340.4" cy="561.1" r="2.4" fill="#111"/>
<circle cx="380.0" cy="548.1" r="2.4" fill="#111"/>
<circle cx="419.6" cy="554.6" r="2.4" fill="#111"/>
<circle cx="459.2" cy="548.4" r="2.4" fill="#111"/>
<rect x="320.8" y="575" width="148.7" height="18.2" fill="url(#gB2)"/>
<text x="393.0" y="589.0" font-size="12" font-weight="bold" fill="#16213a">Danazol</text>
<line x1="320.2" y1="461.0" x2="320.2" y2="594.2" stroke="#111" stroke-width="2"/>
<line x1="319.2" y1="593.2" x2="517.7" y2="593.2" stroke="#111" stroke-width="2"/>
<line x1="315.4" y1="470.3" x2="320.2" y2="470.3" stroke="#111" stroke-width="1.4"/>
<text x="314.6" y="473.9" font-size="9" font-weight="bold" fill="#111" stroke="#111" stroke-width="0.15" text-anchor="end">150</text>
<line x1="315.4" y1="510.9" x2="320.2" y2="510.9" stroke="#111" stroke-width="1.4"/>
<text x="314.6" y="514.5" font-size="9" font-weight="bold" fill="#111" stroke="#111" stroke-width="0.15" text-anchor="end">100</text>
<line x1="315.4" y1="551.6" x2="320.2" y2="551.6" stroke="#111" stroke-width="1.4"/>
<text x="314.6" y="555.2" font-size="9" font-weight="bold" fill="#111" stroke="#111" stroke-width="0.15" text-anchor="end">50</text>
<line x1="315.4" y1="592.6" x2="320.2" y2="592.6" stroke="#111" stroke-width="1.4"/>
<text x="314.6" y="596.2" font-size="9" font-weight="bold" fill="#111" stroke="#111" stroke-width="0.15" text-anchor="end">0</text>
<line x1="340.4" y1="593.2" x2="340.4" y2="598.0" stroke="#111" stroke-width="1.4"/>
<text x="340.7" y="606.8" font-size="9" font-weight="bold" fill="#111" stroke="#111" stroke-width="0.15" text-anchor="middle">0 mo</text>
<line x1="380.0" y1="593.2" x2="380.0" y2="598.0" stroke="#111" stroke-width="1.4"/>
<text x="380.3" y="606.8" font-size="9" font-weight="bold" fill="#111" stroke="#111" stroke-width="0.15" text-anchor="middle">6 mo</text>
<line x1="419.6" y1="593.2" x2="419.6" y2="598.0" stroke="#111" stroke-width="1.4"/>
<text x="419.9" y="606.8" font-size="9" font-weight="bold" fill="#111" stroke="#111" stroke-width="0.15" text-anchor="middle">12 mo</text>
<line x1="459.2" y1="593.2" x2="459.2" y2="598.0" stroke="#111" stroke-width="1.4"/>
<text x="459.5" y="606.8" font-size="9" font-weight="bold" fill="#111" stroke="#111" stroke-width="0.15" text-anchor="middle">24 mo</text>
<line x1="498.8" y1="593.2" x2="498.8" y2="598.0" stroke="#111" stroke-width="1.4"/>
<text x="499.1" y="606.8" font-size="9" font-weight="bold" fill="#111" stroke="#111" stroke-width="0.15" text-anchor="middle">36 mo</text>
<text transform="translate(291.4,526.5) rotate(-90)" font-size="11.3" fill="#111" stroke="#111" stroke-width="0.45" text-anchor="middle">Platelets (k/&#956;L)</text>
</svg>
</body></html>
